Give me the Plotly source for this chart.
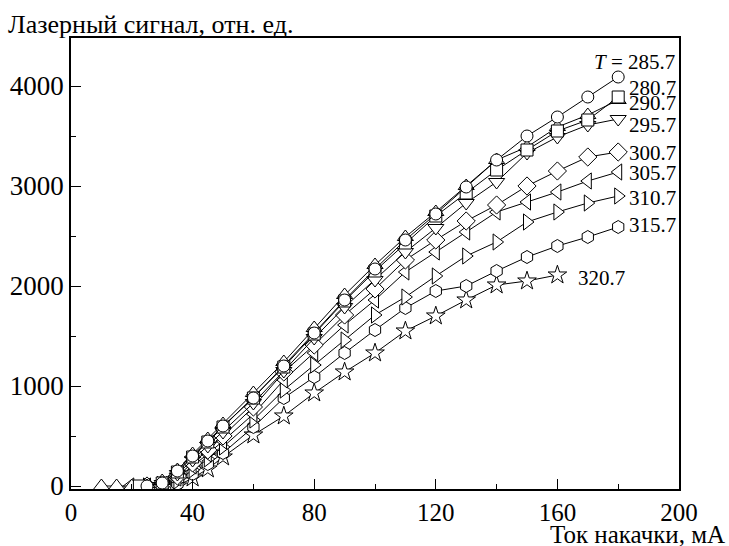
import plotly.graph_objects as go

# ---- data ----
temps = ["285.7", "280.7", "290.7", "295.7", "300.7", "305.7", "310.7", "315.7", "320.7"]
symbols = ["circle", "square", "triangle-up", "triangle-down",
           "diamond", "triangle-left", "triangle-right", "hexagon", "star"]

grid = [25, 30, 35, 40, 45, 50, 60, 70, 80, 90, 100, 110, 120, 130, 140, 150, 160, 170, 180]

x_285 = grid
y_285 = [0, 30, 150, 300, 450, 600, 880, 1200, 1530, 1860, 2170, 2460, 2720, 2990, 3260, 3500, 3690, 3890, 4090]
x_280 = [22.5] + grid[1:]
y_280 = [0, 30, 140, 290, 440, 590, 880, 1190, 1520, 1850, 2150, 2430, 2700, 2930, 3160, 3360, 3550, 3660, 3890]
x_290 = [10, 15, 20] + grid
y_290 = [0, 0, 0, 0, 50, 160, 320, 470, 620, 930, 1240, 1580, 1910, 2210, 2490, 2740, 3000, 3260, 3390, 3590, 3710, 3860]
x_295 = grid
y_295 = [0, 20, 120, 260, 400, 540, 830, 1150, 1480, 1790, 2060, 2340, 2580, 2830, 3040, 3330, 3490, 3610, 3670]
x_300 = grid
y_300 = [0, 10, 100, 230, 360, 500, 790, 1140, 1410, 1710, 1970, 2260, 2460, 2650, 2810, 3000, 3150, 3290, 3340]
x_305 = [19.5] + grid
y_305 = [0, 0, 0, 80, 200, 320, 450, 720, 1060, 1330, 1610, 1860, 2140, 2340, 2540, 2740, 2840, 2940, 3050, 3140]
x_310 = grid
y_310 = [0, 0, 50, 160, 270, 390, 660, 960, 1210, 1460, 1710, 1890, 2100, 2300, 2440, 2640, 2740, 2830, 2900]
x_315 = grid
y_315 = [0, 0, 20, 120, 220, 330, 590, 880, 1090, 1330, 1560, 1780, 1950, 2000, 2150, 2290, 2400, 2490, 2590]
x_320 = [28.5, 31.5, 35, 40, 45, 50, 60, 70, 80, 90, 100, 110, 120, 130, 140, 150, 160]
y_320 = [0, 0, 0, 80, 170, 290, 510, 700, 930, 1140, 1330, 1550, 1700, 1860, 2010, 2050, 2110]

xs = [x_285, x_280, x_290, x_295, x_300, x_305, x_310, x_315, x_320]
ys = [y_285, y_280, y_290, y_295, y_300, y_305, y_310, y_315, y_320]

label_text = ["<i>T</i> = 285.7", "280.7", "290.7", "295.7", "300.7", "305.7", "310.7", "315.7", "320.7"]

FONT = "Liberation Serif"
sizes = {"circle": 12, "square": 12, "triangle-up": 14, "triangle-down": 14, "diamond": 14,
         "triangle-left": 14, "triangle-right": 14, "hexagon": 13, "star": 14}

fig = go.Figure()
for i in reversed(range(len(temps))):
    fig.add_trace(go.Scatter(
        x=xs[i], y=ys[i], mode="lines+markers", name=temps[i],
        line=dict(color="black", width=1),
        marker=dict(symbol=symbols[i], size=sizes[symbols[i]],
                    color="white", line=dict(color="black", width=1)),
        showlegend=False,
    ))

lab_pos = [(171.5, 4240), (183, 3980), (183, 3830), (183, 3610), (183, 3330),
           (183, 3130), (183, 2880), (183, 2610), (166, 2080)]
for txt, (lx, ly) in zip(label_text, lab_pos):
    fig.add_annotation(x=lx, y=ly, xref="x", yref="y", text=txt, showarrow=False,
                       xanchor="left", yanchor="middle",
                       font=dict(family=FONT, size=21, color="black"))

fig.add_annotation(xref="paper", yref="paper", x=(6 - 71) / 608, y=1 + (38 - 24) / 451,
                   text="Лазерный сигнал, отн. ед.", showarrow=False,
                   xanchor="left", yanchor="middle",
                   font=dict(family=FONT, size=26, color="black"))
fig.add_annotation(xref="paper", yref="paper", x=(727 - 71) / 608, y=-(534 - 489) / 451,
                   text="Ток накачки, мА", showarrow=False,
                   xanchor="right", yanchor="middle",
                   font=dict(family=FONT, size=25, color="black"))

fig.update_layout(
    width=729, height=546,
    margin=dict(l=71, r=50, t=38, b=57, autoexpand=False),
    paper_bgcolor="white", plot_bgcolor="white",
    font=dict(family=FONT, size=27, color="black"),
    xaxis=dict(range=[0, 200], tickvals=[0, 40, 80, 120, 160, 200], ticks="inside", ticklen=10,
               tickwidth=1, tickcolor="black", showline=True, linecolor="black", linewidth=1.5,
               mirror=True, showgrid=False, zeroline=False, automargin=False,
               tickfont=dict(family=FONT, size=25),
               minor=dict(tickvals=[20, 60, 100, 140, 180], ticks="inside", ticklen=5, tickcolor="black")),
    yaxis=dict(range=[-30, 4480], tickvals=[0, 1000, 2000, 3000, 4000], ticks="inside", ticklen=10,
               tickwidth=1, tickcolor="black", showline=True, linecolor="black", linewidth=1.5,
               mirror=True, showgrid=False, zeroline=False, automargin=False,
               tickfont=dict(family=FONT, size=27),
               minor=dict(tickvals=[500, 1500, 2500, 3500], ticks="inside", ticklen=5, tickcolor="black")),
)

fig.write_html("out.html")
